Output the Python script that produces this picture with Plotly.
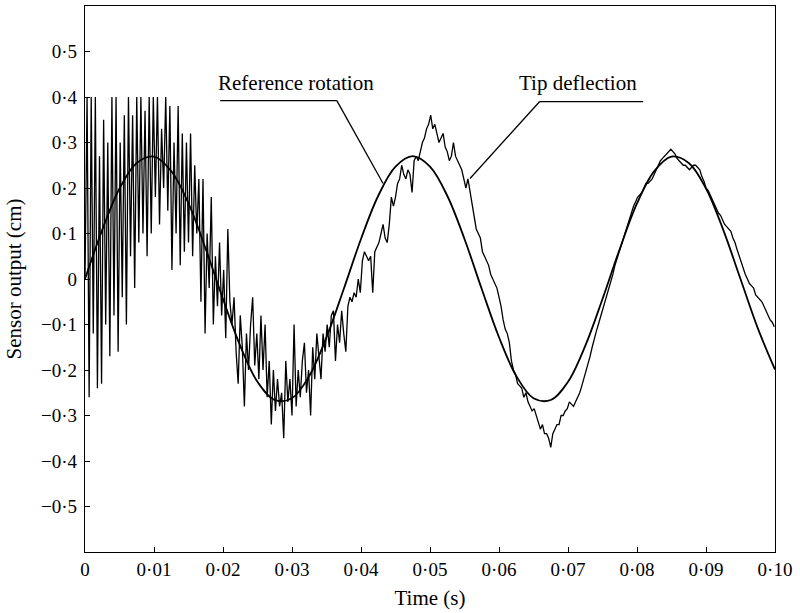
import plotly.graph_objects as go

# ---------------- data ----------------
ref_time_step = 0.0025
reference_rotation = [
    0.000, 0.108, 0.199, 0.255, 0.269, 0.237, 0.166, 0.066, -0.044, -0.147,
    -0.226, -0.266, -0.262, -0.213, -0.128, -0.022, 0.088, 0.183, 0.247, 0.270,
    0.247, 0.183, 0.088, -0.022, -0.128, -0.213, -0.262, -0.266, -0.226, -0.147,
    -0.044, 0.066, 0.166, 0.237, 0.269, 0.255, 0.199, 0.108, 0.000, -0.108,
    -0.199,
]
ref_time = [i * ref_time_step for i in range(len(reference_rotation))]

tip_time_step = 0.0003
tip_deflection = [
    0.00, 0.40, -0.26, 0.40, -0.12, 0.40, -0.24, 0.27, -0.23, 0.35,
    -0.10, 0.30, -0.17, 0.40, -0.08, 0.40, -0.16, 0.30, -0.04, 0.36,
    -0.10, 0.40, 0.05, 0.36, -0.02, 0.40, 0.08, 0.40, 0.10, 0.37,
    0.05, 0.40, 0.10, 0.40, 0.18, 0.40, 0.12, 0.33, 0.20, 0.40,
    0.15, 0.38, 0.02, 0.30, 0.10, 0.38, 0.03, 0.32, 0.06, 0.30,
    0.08, 0.32, 0.05, 0.25, 0.10, 0.22, -0.05, 0.22, -0.12, 0.10,
    -0.02, 0.18, -0.10, 0.05, -0.06, 0.08, -0.08, 0.02, -0.13, 0.11,
    -0.05, -0.10, -0.04, -0.16, -0.23, -0.08, -0.15, -0.28, -0.12, -0.20,
    -0.10, -0.04, -0.19, -0.12, -0.22, -0.08, -0.20, -0.10, -0.26, -0.18,
    -0.32, -0.20, -0.29, -0.22, -0.28, -0.25, -0.35, -0.18, -0.27, -0.22,
    -0.30, -0.10, -0.28, -0.20, -0.26, -0.18, -0.14, -0.25, -0.20, -0.30,
    -0.15, -0.22, -0.12, -0.18, -0.22, -0.12, -0.16, -0.10, -0.15, -0.08,
    -0.07, -0.18, -0.10, -0.14, -0.07, -0.12, -0.16, -0.06, -0.04, -0.05,
    -0.03, -0.04, 0.00, -0.03, 0.04, 0.06, 0.05, 0.04, 0.05, -0.03,
    0.06, 0.07, 0.08, 0.10, 0.12, 0.09, 0.08, 0.12, 0.18, 0.16,
    0.18, 0.21, 0.22, 0.25, 0.23, 0.22, 0.24, 0.23, 0.19, 0.26,
    0.27, 0.26, 0.28, 0.30, 0.31, 0.33, 0.34, 0.36, 0.33, 0.34,
    0.32, 0.30, 0.31, 0.32, 0.29, 0.28, 0.26, 0.27, 0.30, 0.27,
    0.26, 0.25, 0.24, 0.22, 0.20, 0.22, 0.19, 0.17, 0.13, 0.11,
    0.10, 0.09, 0.06, 0.05, 0.04, 0.03, 0.01, 0.00, -0.01, -0.02,
    -0.04, -0.06, -0.09, -0.11, -0.12, -0.14, -0.18, -0.20, -0.21, -0.23,
    -0.235, -0.24, -0.26, -0.25, -0.27, -0.28, -0.29, -0.285, -0.30, -0.31,
    -0.33, -0.32, -0.34, -0.34, -0.35, -0.37, -0.34, -0.33, -0.32, -0.32,
    -0.30, -0.30, -0.29, -0.285, -0.27, -0.275, -0.28, -0.27, -0.26, -0.25,
    -0.235, -0.22, -0.20, -0.19, -0.17, -0.15, -0.13, -0.115, -0.10, -0.085,
    -0.07, -0.05, -0.035, -0.025, -0.01, 0.01, 0.03, 0.045, 0.06, 0.07,
    0.09, 0.10, 0.115, 0.13, 0.145, 0.16, 0.17, 0.18, 0.185, 0.19,
    0.20, 0.21, 0.21, 0.215, 0.22, 0.23, 0.24, 0.25, 0.26, 0.265,
    0.27, 0.275, 0.28, 0.285, 0.28, 0.275, 0.265, 0.26, 0.255, 0.25,
    0.25, 0.245, 0.24, 0.245, 0.25, 0.25, 0.245, 0.24, 0.225, 0.215,
    0.20, 0.195, 0.185, 0.175, 0.165, 0.155, 0.145, 0.14, 0.13, 0.12,
    0.115, 0.11, 0.105, 0.09, 0.08, 0.065, 0.05, 0.035, 0.02, 0.01,
    0.00, -0.01, -0.015, -0.02, -0.035, -0.04, -0.045, -0.05, -0.06, -0.07,
    -0.08, -0.09, -0.095, -0.105,
]
tip_time = [i * tip_time_step for i in range(len(tip_deflection))]

x_ticks = [0, 0.01, 0.02, 0.03, 0.04, 0.05, 0.06, 0.07, 0.08, 0.09, 0.10]
x_tick_labels = ["0", "0·01", "0·02", "0·03", "0·04", "0·05",
                 "0·06", "0·07", "0·08", "0·09", "0·10"]
y_ticks = [-0.5, -0.4, -0.3, -0.2, -0.1, 0, 0.1, 0.2, 0.3, 0.4, 0.5]
y_tick_labels = ["−0·5", "−0·4", "−0·3", "−0·2", "−0·1", "0",
                 "0·1", "0·2", "0·3", "0·4", "0·5"]

FONT = "Liberation Serif"

fig = go.Figure()
fig.add_trace(go.Scatter(
    x=tip_time, y=tip_deflection, mode="lines", name="Tip deflection",
    line=dict(color="black", width=1.3), showlegend=False,
))
fig.add_trace(go.Scatter(
    x=ref_time, y=reference_rotation, mode="lines", name="Reference rotation",
    line=dict(color="black", width=1.8, shape="spline", smoothing=1.0),
    showlegend=False,
))

# leader lines for the labels
line_style = dict(color="black", width=1.3)
fig.add_shape(type="line", xref="x", yref="y", x0=0.0196, y0=0.392, x1=0.0365, y1=0.392, line=line_style)
fig.add_shape(type="line", xref="x", yref="y", x0=0.0365, y0=0.392, x1=0.0432, y1=0.210, line=line_style)
fig.add_shape(type="line", xref="x", yref="y", x0=0.0809, y0=0.390, x1=0.0659, y1=0.390, line=line_style)
fig.add_shape(type="line", xref="x", yref="y", x0=0.0659, y0=0.390, x1=0.0558, y1=0.221, line=line_style)

fig.add_annotation(x=0.0306, y=0.430, xref="x", yref="y", text="Reference rotation",
                   showarrow=False, font=dict(family=FONT, size=21, color="black"))
fig.add_annotation(x=0.0714, y=0.430, xref="x", yref="y", text="Tip deflection",
                   showarrow=False, font=dict(family=FONT, size=21, color="black"))

fig.update_layout(
    width=800, height=613,
    margin=dict(l=85, r=25, t=6, b=61),
    plot_bgcolor="white", paper_bgcolor="white",
    font=dict(family=FONT, size=19, color="black"),
)
fig.update_xaxes(
    range=[0, 0.1], tickvals=x_ticks, ticktext=x_tick_labels,
    ticks="inside", ticklen=5, tickwidth=1, tickcolor="black",
    showline=True, linecolor="black", linewidth=1.3, mirror=True,
    showgrid=False, zeroline=False, automargin=False,
    tickfont=dict(family=FONT, size=19, color="black"),
    title=dict(text="Time (s)", standoff=11, font=dict(family=FONT, size=21, color="black")),
)
fig.update_yaxes(
    range=[-0.6, 0.6], tickvals=y_ticks, ticktext=y_tick_labels,
    ticks="inside", ticklen=5, tickwidth=1, tickcolor="black",
    showline=True, linecolor="black", linewidth=1.3, mirror=True,
    showgrid=False, zeroline=False, automargin=False,
    ticklabelstandoff=3,
    tickfont=dict(family=FONT, size=19, color="black"),
    title=dict(text="Sensor output (cm)", standoff=13, font=dict(family=FONT, size=21, color="black")),
)

fig.write_html("out.html", config={"displayModeBar": False},
               post_script="document.body.style.margin='0';")
